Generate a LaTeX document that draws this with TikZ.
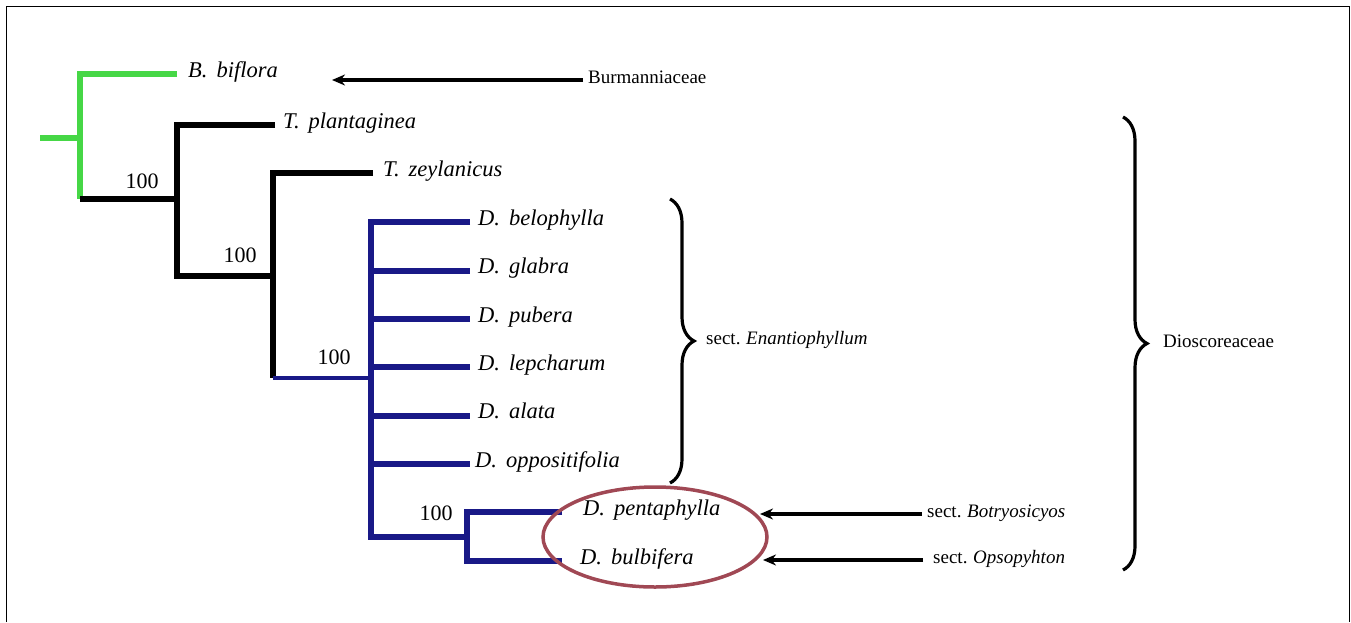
\documentclass[tikz,border=0pt]{standalone}
\usepackage{fontspec}
\setmainfont{Liberation Serif}
\usetikzlibrary{arrows.meta,decorations.pathreplacing,shapes.geometric}
\definecolor{leafgreen}{RGB}{70,215,70}
\definecolor{cladeblue}{RGB}{25,25,135}
\definecolor{ringred}{RGB}{160,72,84}
\newcommand{\tx}[2]{#1\hspace{0.4em}#2}

\begin{document}
\begin{tikzpicture}[x=1pt,y=-1pt,
  br/.style={line width=6pt},
  taxon/.style={anchor=west,inner xsep=8pt,inner ysep=0pt,text height=0.66em,text depth=0pt,font=\fontsize{22.5}{26}\selectfont\itshape},
  boot/.style={inner sep=0pt,text height=0.68em,text depth=0pt,font=\fontsize{22}{26}\selectfont},
  grp/.style={inner xsep=5pt,inner ysep=0pt,text height=0.66em,text depth=0pt,font=\fontsize{19}{23}\selectfont},
  arr/.style={line width=3.6pt,-{Stealth[length=13pt,width=11pt]}},
  brc/.style={line width=3.2pt,decorate,decoration={brace,amplitude=24pt,aspect=0.5}}]
\useasboundingbox (0,0) rectangle (1351,622);
\draw[line width=1.5pt] (6.5,622)--(6.5,6.5)--(1349.5,6.5)--(1349.5,622);

\coordinate (root) at (40,138);
\coordinate (n1) at (80,138);
\coordinate (n2) at (177,199);
\coordinate (n3) at (273,276);
\coordinate (n4) at (371,378);
\coordinate (n5) at (467,537);

\node[taxon,inner xsep=11pt] (bif) at (177,74) {\tx{B.}{biflora}};
\node[taxon] (pla) at (275,125) {\tx{T.}{plantaginea}};
\node[taxon,inner xsep=10pt] (zey) at (373,173) {\tx{T.}{zeylanicus}};
\node[taxon] (bel) at (470,222) {\tx{D.}{belophylla}};
\node[taxon] (gla) at (470,270.5) {\tx{D.}{glabra}};
\node[taxon] (pub) at (470,319) {\tx{D.}{pubera}};
\node[taxon] (lep) at (470,367) {\tx{D.}{lepcharum}};
\node[taxon] (ala) at (470,415.5) {\tx{D.}{alata}};
\node[taxon,inner xsep=5pt] (opp) at (470,464) {\tx{D.}{oppositifolia}};
\node[taxon,inner xsep=21pt] (pen) at (562,512) {\tx{D.}{pentaphylla}};
\node[taxon,inner xsep=18pt] (bul) at (562,561) {\tx{D.}{bulbifera}};

\draw[br,leafgreen] (root)--(n1);
\draw[br,leafgreen] (bif.west) -| (n1) -- (n1 |- n2);
\draw[br] (n1 |- n2)--(n2);
\draw[br] (pla.west) -| (n2) |- (n3);
\draw[br] (zey.west) -| (n3) -- (n3 |- n4);
\draw[line width=4.5pt,cladeblue] (n3 |- n4)--(n4);
\draw[br,cladeblue] (bel.west) -| (n4) |- (n5);
\foreach \t in {gla,pub,lep,ala,opp}
  \draw[br,cladeblue] (n4 |- \t.west)--(\t.west);
\draw[br,cladeblue] (pen.west) -| (n5) |- (bul.west);

\node[boot] (b1) at (142,185) {100};
\node[boot] (b2) at (240,259) {100};
\node[boot] (b3) at (334,361) {100};
\node[boot] (b4) at (436,517) {100};

\node[ellipse,draw=ringred,line width=3.5pt,minimum width=224pt,minimum height=100pt] (ring) at (655,537) {};

\node[grp,anchor=west] (burm) at (583,80) {Burmanniaceae};
\coordinate (tb) at (332,80);
\draw[arr] (burm.west)--(tb);

\node[grp,anchor=west] (bot) at (922,514) {sect.\hspace{0.3em}\textit{Botryosicyos}};
\coordinate (tp) at (760,514);
\draw[arr] (bot.west)--(tp);

\node[grp,anchor=west,inner xsep=10pt] (ops) at (923,560) {sect.\hspace{0.3em}\textit{Opsopyhton}};
\coordinate (tq) at (763,560);
\draw[arr] (ops.west)--(tq);

\coordinate (e1) at (670,199);
\coordinate (e2) at (670,483);
\draw[brc] (e1)--(e2);
\node[grp,anchor=west,inner xsep=0pt] (ena) at (706,341) {sect.\hspace{0.3em}\textit{Enantiophyllum}};

\coordinate (d1) at (1123,117);
\coordinate (d2) at (1123,570);
\draw[brc] (d1)--(d2);
\node[grp,anchor=west,inner xsep=0pt] (dio) at (1163,344) {Dioscoreaceae};
\end{tikzpicture}
\end{document}
